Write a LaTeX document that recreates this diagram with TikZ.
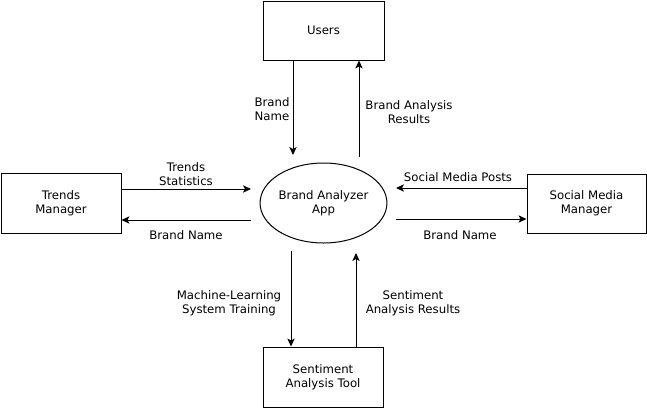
\documentclass[tikz,border=0pt]{standalone}
\usepackage{fontspec}
\setmainfont{DejaVu Sans}
\usetikzlibrary{arrows.meta,shapes.geometric}
\begin{document}
\begin{tikzpicture}[x=0.75pt,y=-0.75pt,
  font=\fontsize{8.8}{10.5}\selectfont,
  box/.style={draw,line width=0.75pt,inner sep=0pt,align=center},
  lbl/.style={inner sep=0pt,align=center},
  arr/.style={line width=0.75pt,-{Stealth[length=6pt,width=5.5pt,inset=1.5pt]}}]
\useasboundingbox (0,0) rectangle (647,408);
\node[box,minimum width=90.75pt,minimum height=44.25pt] (users) at (323.5,30.5) {Users};
\node[box,minimum width=90pt,minimum height=45pt] (tm) at (61,203) {Trends\\Manager};
\node[box,minimum width=89.25pt,minimum height=44.25pt] (smm) at (586.5,203.5) {Social Media\\Manager};
\node[box,minimum width=90pt,minimum height=45pt] (sat) at (323,377) {Sentiment\\Analysis Tool};
\node[box,ellipse,minimum width=90.75pt,minimum height=60pt] (app) at (323.5,203) {Brand Analyzer\\App};
\coordinate (c1) at (293,155);
\coordinate (c2) at (359,157);
\coordinate (c3) at (251,189);
\coordinate (c4) at (251,220);
\coordinate (c5) at (396,188);
\coordinate (c6) at (396,219);
\coordinate (c7) at (291,251);
\coordinate (c8) at (356,253);
\draw[arr] (users.south -| c1) -- (c1);
\draw[arr] (c2) -- (users.south -| c2);
\draw[arr] (tm.east |- c3) -- (c3);
\draw[arr] (c4) -- (tm.east |- c4);
\draw[arr] (smm.west |- c5) -- (c5);
\draw[arr] (c6) -- (smm.west |- c6);
\draw[arr] (c7) -- (sat.north -| c7);
\draw[arr] (sat.north -| c8) -- (c8);
\node[lbl] (l1) at (272,109) {Brand\\Name};
\node[lbl] (l2) at (409,112) {Brand Analysis\\Results};
\node[lbl] (l3) at (186,174) {Trends\\Statistics};
\node[lbl] (l4) at (186,235) {Brand Name};
\node[lbl] (l5) at (458,177) {Social Media Posts};
\node[lbl] (l6) at (460,235) {Brand Name};
\node[lbl] (l7) at (229,303) {Machine-Learning\\System Training};
\node[lbl] (l8) at (413,303) {Sentiment\\Analysis Results};
\end{tikzpicture}
\end{document}
